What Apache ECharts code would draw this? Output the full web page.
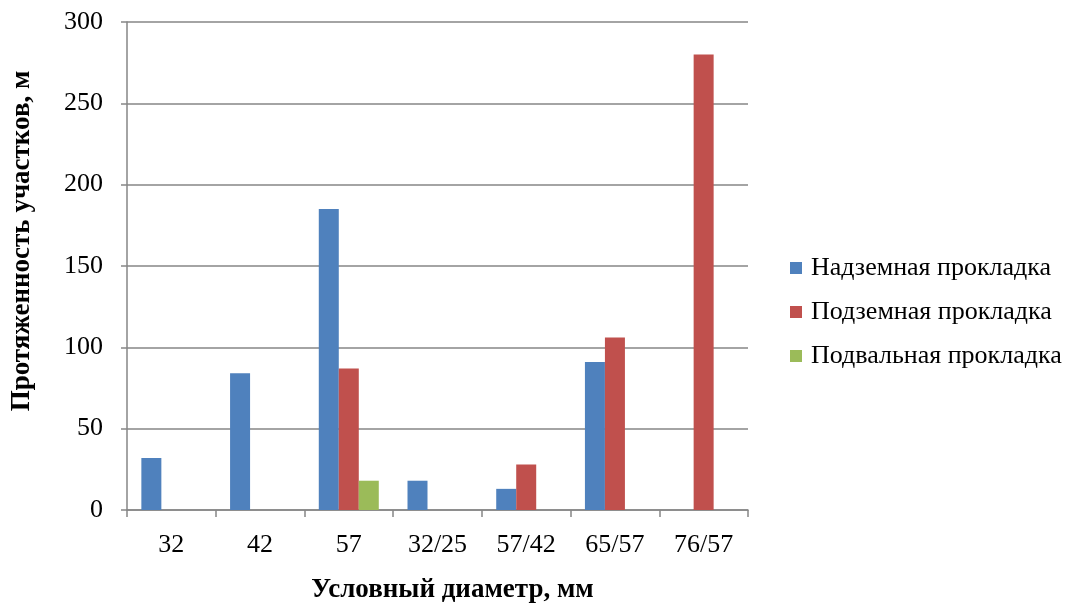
<!DOCTYPE html>
<html>
<head>
<meta charset="utf-8">
<script src="https://cdn.jsdelivr.net/npm/echarts@6/dist/echarts.min.js"></script>
<style>
  html, body { margin: 0; padding: 0; background: #ffffff; }
  #chart { width: 1068px; height: 603px; }
</style>
</head>
<body>
<div id="chart"></div>
<script>
// Условный диаметр трубопровода (категории по оси X)
const categories = ['32', '42', '57', '32/25', '57/42', '65/57', '76/57'];

// Протяженность участков, м, по типам прокладки
const overground = [32, 84, 185, 18, 13, 91, 0];
const underground = [0, 0, 87, 0, 28, 106, 280];
const basement = [0, 0, 18, 0, 0, 0, 0];

const seriesNames = ['Надземная прокладка', 'Подземная прокладка', 'Подвальная прокладка'];
const seriesColors = ['#4f81bd', '#c0504d', '#9bbb59'];
const seriesData = [overground, underground, basement];

const yTicks = { min: 0, max: 300, interval: 50 };

const font = '"Liberation Serif", "Times New Roman", serif';

const chart = echarts.init(document.getElementById('chart'), null, { renderer: 'canvas' });

chart.setOption({
  animation: false,
  backgroundColor: '#ffffff',
  textStyle: { fontFamily: font },
  grid: { left: 127, right: 320, top: 22, bottom: 93, containLabel: false, outerBoundsMode: 'none' },
  legend: {
    orient: 'vertical',
    left: 785,
    top: 250,
    itemWidth: 12,
    itemHeight: 12,
    itemGap: 18,
    icon: 'rect',
    textStyle: { fontFamily: font, fontSize: 26, color: '#000000', padding: [0, 0, 0, 4] },
    data: seriesNames
  },
  xAxis: {
    type: 'category',
    data: categories,
    name: 'Условный диаметр, мм',
    nameLocation: 'middle',
    nameGap: 67,
    nameTextStyle: {
      fontFamily: font, fontSize: 27, fontWeight: 'bold', color: '#000000',
      padding: [0, 0, 0, 30]
    },
    axisLine: { lineStyle: { color: '#868686', width: 1.5 } },
    axisTick: { show: true, length: 7, lineStyle: { color: '#868686', width: 1.5 }, alignWithLabel: false },
    axisLabel: { fontFamily: font, fontSize: 26, color: '#000000', margin: 22 },
    splitLine: { show: false }
  },
  yAxis: {
    type: 'value',
    min: yTicks.min,
    max: yTicks.max,
    interval: yTicks.interval,
    name: 'Протяженность участков, м',
    nameLocation: 'middle',
    nameGap: 91,
    nameRotate: 90,
    nameTextStyle: {
      fontFamily: font, fontSize: 27, fontWeight: 'bold', color: '#000000',
      padding: [0, 0, 0, 50]
    },
    axisLine: { show: true, lineStyle: { color: '#868686', width: 1.5 } },
    axisTick: { show: true, length: 6, lineStyle: { color: '#868686', width: 1.5 } },
    axisLabel: { fontFamily: font, fontSize: 26, color: '#000000', margin: 24 },
    splitLine: { show: true, lineStyle: { color: '#868686', width: 1.5 } }
  },
  series: seriesNames.map((name, i) => ({
    name: name,
    type: 'bar',
    data: seriesData[i],
    barWidth: 20,
    barGap: '0%',
    itemStyle: { color: seriesColors[i] }
  }))
});
</script>
</body>
</html>
